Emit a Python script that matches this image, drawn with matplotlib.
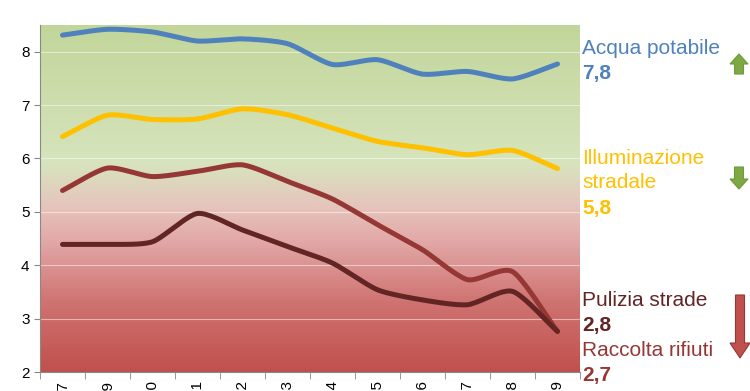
import numpy as np
import matplotlib
matplotlib.use('Agg')
import matplotlib.pyplot as plt
from matplotlib.colors import LinearSegmentedColormap
from matplotlib.patches import FancyArrow

# data
years = ['1997', '1999', '2000', '2001', '2002', '2003', '2004', '2005', '2006', '2007', '2008', '2009']
acqua = [8.31, 8.42, 8.37, 8.20, 8.24, 8.15, 7.76, 7.85, 7.58, 7.63, 7.49, 7.77]
illuminazione = [6.41, 6.81, 6.73, 6.74, 6.93, 6.82, 6.57, 6.32, 6.20, 6.07, 6.15, 5.81]
raccolta = [5.40, 5.82, 5.66, 5.76, 5.88, 5.57, 5.24, 4.76, 4.29, 3.73, 3.88, 2.76]
pulizia = [4.39, 4.39, 4.44, 4.97, 4.66, 4.35, 4.04, 3.54, 3.35, 3.26, 3.51, 2.76]

plt.rcParams['font.family'] = ['Liberation Sans', 'DejaVu Sans']

BLUE = '#4f81bd'
YELLOW = '#ffc000'
RED = '#953735'
DARK = '#632523'


def smooth(xs, ys, n=20):
    # Catmull-Rom style curve, like Excel's "smoothed line"
    xs = np.asarray(xs, float)
    ys = np.asarray(ys, float)
    px = np.concatenate([[2 * xs[0] - xs[1]], xs, [2 * xs[-1] - xs[-2]]])
    py = np.concatenate([[2 * ys[0] - ys[1]], ys, [2 * ys[-1] - ys[-2]]])
    outx, outy = [], []
    t = np.linspace(0, 1, n)
    for i in range(1, len(px) - 2):
        for p, out in ((px, outx), (py, outy)):
            p0, p1, p2, p3 = p[i - 1], p[i], p[i + 1], p[i + 2]
            m1 = (p2 - p0) / 2 * 0.7
            m2 = (p3 - p1) / 2 * 0.7
            h00 = 2 * t**3 - 3 * t**2 + 1
            h10 = t**3 - 2 * t**2 + t
            h01 = -2 * t**3 + 3 * t**2
            h11 = t**3 - t**2
            out.extend(h00 * p1 + h10 * m1 + h01 * p2 + h11 * m2)
    return outx, outy


fig = plt.figure(figsize=(7.5, 3.91), dpi=100)
ax = fig.add_axes([40 / 750, 19 / 391, 540 / 750, 347 / 391])

x = np.arange(len(years))
ax.set_xlim(-0.5, len(years) - 0.5)
ax.set_ylim(2, 8.5)

# gradient background: red at the bottom, green at the top
cmap = LinearSegmentedColormap.from_list('bg', [
    (0.0, '#c0504d'), (0.2, '#cf7371'), (0.38, '#e2a9a8'),
    (0.48, '#e6c5bd'), (0.6, '#d7e4bd'), (1.0, '#c2d69a')])
grad = np.linspace(0, 1, 256).reshape(-1, 1)
ax.imshow(grad, cmap=cmap, origin='lower', aspect='auto',
          extent=(-0.5, len(years) - 0.5, 2, 8.5), zorder=0)

for v in range(3, 9):
    ax.axhline(v, color='white', lw=0.8, alpha=0.5, zorder=1)

for ys, c in ((acqua, BLUE), (illuminazione, YELLOW), (raccolta, RED), (pulizia, DARK)):
    sx, sy = smooth(x, ys)
    ax.plot(sx, sy, color=c, lw=3.6, solid_capstyle='round', zorder=3)

ax.set_yticks(range(2, 9))
ax.tick_params(axis='y', labelsize=11, length=4, color='#888888')
ax.set_xticks(x)
ax.set_xticklabels(years, rotation=90, fontsize=11)
ax.set_xticks(np.arange(-0.5, len(years)), minor=True)
ax.tick_params(axis='x', which='major', length=0, pad=6)
ax.tick_params(axis='x', which='minor', length=5, color='#888888')
for s in ('top', 'right'):
    ax.spines[s].set_visible(False)
for s in ('left', 'bottom'):
    ax.spines[s].set_color('#888888')

# labels on the right
def lab(px, py, s, c, bold=False):
    fig.text(px / 750, 1 - py / 391, s, color=c, fontsize=15,
             fontweight='bold' if bold else 'normal', va='center', ha='left')

lab(582, 49, 'Acqua potabile', BLUE)
lab(582, 74, '7,8', BLUE, True)
lab(582, 158, 'Illuminazione', YELLOW)
lab(582, 183, 'stradale', YELLOW)
lab(582, 208, '5,8', YELLOW, True)
lab(582, 301, 'Pulizia strade', DARK)
lab(582, 326, '2,8', DARK, True)
lab(582, 351, 'Raccolta rifiuti', RED)
lab(582, 376, '2,7', RED, True)

# trend arrows
GREEN = '#6f9a3a'
def arrow(px, y0, y1, w, hw, hl, fc, ec):
    fig.patches.append(FancyArrow(px / 750, 1 - y0 / 391, 0, (y0 - y1) / 391,
                                  width=w / 750, head_width=hw / 750, head_length=hl / 391,
                                  length_includes_head=True, fc=fc, ec=ec, lw=0.8,
                                  transform=fig.transFigure, figure=fig))

arrow(739, 74, 54, 9, 18, 10, '#7ea843', GREEN)
arrow(739, 167, 189, 9, 18, 10, '#7ea843', GREEN)
arrow(740, 295, 358, 9, 20, 15, '#c0504d', RED)

fig.savefig('out.png', dpi=100)
